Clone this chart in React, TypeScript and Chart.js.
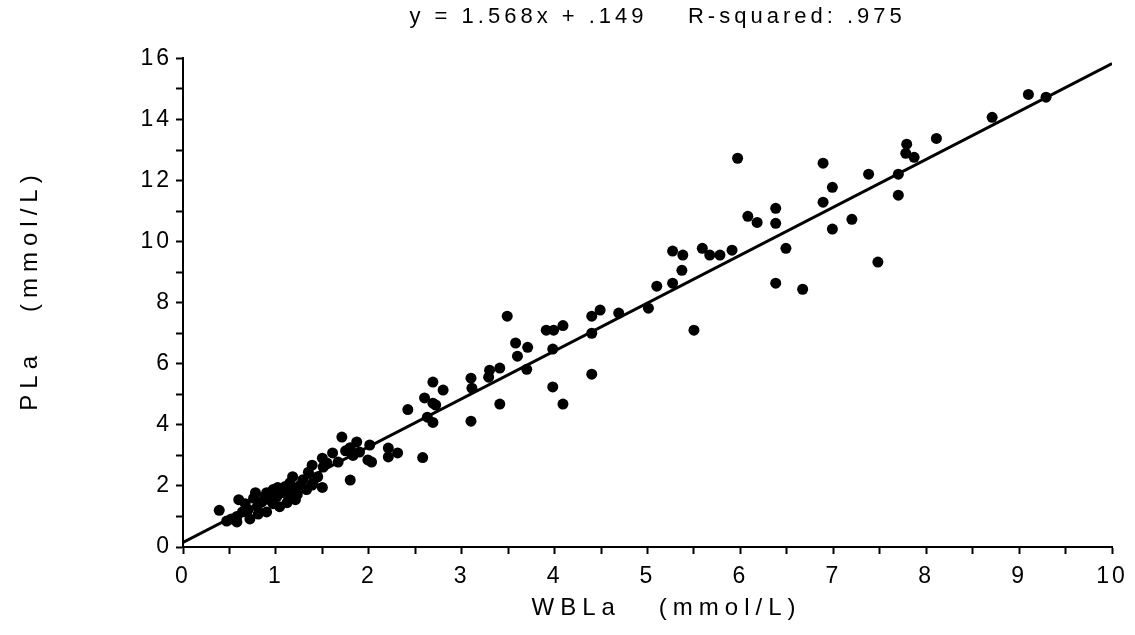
import React, { useEffect, useRef } from 'react';
import { Chart, registerables } from 'chart.js';

Chart.register(...registerables);

// Whole-blood lactate (x) and plasma lactate (y), mmol/L
const wblaX = [
  0.39, 0.47, 0.52, 0.58, 0.58, 0.60, 0.64, 0.67, 0.70, 0.72,
  0.76, 0.78, 0.80, 0.81, 0.85, 0.88, 0.90, 0.90, 0.93, 0.97,
  0.97, 1.01, 1.02, 1.04, 1.08, 1.10, 1.12, 1.14, 1.15, 1.18,
  1.18, 1.21, 1.23, 1.26, 1.29, 1.33, 1.35, 1.39, 1.39, 1.40,
  1.45, 1.50, 1.50, 1.51, 1.55, 1.61, 1.67, 1.71, 1.75, 1.80,
  1.80, 1.83, 1.87, 1.90, 1.99, 2.01, 2.03, 2.21, 2.21, 2.31,
  2.42, 2.58, 2.60, 2.69, 2.63, 2.69, 2.69, 2.80, 2.72, 3.10,
  3.11, 3.10, 3.30, 3.41, 3.29, 3.41, 3.49, 3.58, 3.71, 3.60,
  3.70, 3.91, 3.99, 4.09, 3.98, 3.98, 4.09, 4.40, 4.49, 4.40,
  4.40, 4.69, 5.01, 5.10, 5.27, 5.37, 5.27, 5.38, 5.59, 5.67,
  5.78, 5.91, 5.50, 5.97, 6.08, 6.18, 6.38, 6.38, 6.38, 6.49,
  6.67, 6.89, 6.89, 6.99, 6.99, 7.20, 7.38, 7.48, 7.70, 7.70,
  7.79, 7.78, 7.87, 8.11, 8.71, 9.10, 9.29,
];
const plaY = [
  1.20, 0.85, 0.92, 0.82, 1.00, 1.55, 1.15, 1.42, 1.22, 0.92,
  1.60, 1.78, 1.32, 1.08, 1.48, 1.65, 1.15, 1.78, 1.55, 1.88,
  1.42, 1.65, 1.95, 1.32, 1.78, 1.98, 1.45, 1.62, 2.10, 2.30,
  1.85, 1.55, 1.72, 2.02, 2.20, 1.88, 2.45, 2.68, 2.03, 2.10,
  2.30, 2.91, 1.95, 2.62, 2.75, 3.08, 2.78, 3.60, 3.15, 2.19,
  3.25, 3.00, 3.44, 3.11, 2.85, 3.34, 2.78, 3.24, 2.95, 3.08,
  4.50, 2.93, 4.88, 4.71, 4.25, 4.08, 5.40, 5.14, 4.65, 5.53,
  5.20, 4.12, 5.79, 5.86, 5.56, 4.68, 7.56, 6.68, 6.54, 6.25,
  5.82, 7.10, 7.10, 7.25, 6.48, 5.24, 4.68, 7.56, 7.76, 7.00,
  5.66, 7.66, 7.82, 8.54, 8.64, 9.06, 9.69, 9.56, 9.78, 9.56,
  9.56, 9.72, 7.10, 12.73, 10.83, 10.63, 11.09, 10.60, 8.64, 9.78,
  8.44, 12.57, 11.29, 11.78, 10.41, 10.73, 12.21, 9.33, 12.21, 11.52,
  13.19, 12.89, 12.76, 13.38, 14.07, 14.82, 14.73,
];

// Regression line y = 1.568x + .149, endpoints at x = 0 and x = 10
const fitX = [0, 10];
const fitY = [0.149, 15.829];

const titleText = '  y = 1.568x + .149    R-squared: .975';
const xTitle = '   WBLa   (mmol/L)';
const yTitle = '  PLa   (mmol/L)';

const FONT = "'Liberation Sans', Arial, Helvetica, sans-serif";

function patchSpacing(ctx: any) {
  if (ctx.__spacingPatched) return;
  ctx.__spacingPatched = true;
  const fill = ctx.fillText;
  const measure = ctx.measureText;
  const pick = () => {
    const f: string = ctx.font || '';
    if (f.includes('24px')) return '6px';
    if (f.includes('22px')) return '4px';
    if (f.includes('23px')) return '3px';
    return '0px';
  };
  ctx.fillText = function (t: string, x: number, y: number, w?: number) {
    ctx.letterSpacing = pick();
    return w === undefined ? fill.call(ctx, t, x, y) : fill.call(ctx, t, x, y, w);
  };
  ctx.measureText = function (t: string) {
    ctx.letterSpacing = pick();
    return measure.call(ctx, t);
  };
}

export default function App() {
  const canvasRef = useRef<HTMLCanvasElement | null>(null);

  useEffect(() => {
    document.body.style.margin = '0';
    const canvas = canvasRef.current;
    if (!canvas) return;
    const ctx = canvas.getContext('2d');
    if (!ctx) return;
    patchSpacing(ctx);

    const points = wblaX.map((x, i) => ({ x, y: plaY[i] }));
    const line = fitX.map((x, i) => ({ x, y: fitY[i] }));

    const chart = new Chart(ctx, {
      type: 'scatter',
      data: {
        datasets: [
          {
            label: 'line',
            data: line,
            showLine: true,
            borderColor: '#000',
            borderWidth: 3,
            pointRadius: 0,
            fill: false,
          } as any,
          {
            label: 'points',
            data: points,
            backgroundColor: '#000',
            borderColor: '#000',
            borderWidth: 0,
            pointRadius: 5.5,
            pointHoverRadius: 5.5,
          },
        ],
      },
      options: {
        responsive: false,
        animation: false,
        devicePixelRatio: 1,
        layout: { padding: { left: 0, right: 23, top: 0, bottom: 0 } },
        plugins: {
          legend: { display: false },
          tooltip: { enabled: false },
          title: {
            display: true,
            text: titleText,
            color: '#000',
            fullSize: false,
            font: { family: FONT, size: 22, weight: 'normal' },
            padding: { top: 4, bottom: 28 },
          },
        },
        scales: {
          x: {
            type: 'linear',
            min: 0,
            max: 10,
            afterFit: (s: any) => { s.height = 88; s.paddingRight = 0; s.paddingLeft = 0; },
            border: { display: true, color: '#000', width: 2 },
            grid: {
              display: true,
              drawOnChartArea: false,
              drawTicks: true,
              tickLength: 7,
              tickColor: '#000',
              tickWidth: 2,
              color: '#000',
            },
            ticks: {
              stepSize: 0.5,
              autoSkip: false,
              maxRotation: 0,
              padding: 9,
              color: '#000',
              font: { family: FONT, size: 23 },
              callback: (v: any) => (Number.isInteger(Number(v)) ? String(v) : ''),
            },
            title: {
              display: true,
              text: xTitle,
              color: '#000',
              font: { family: FONT, size: 24 },
              padding: { top: 0, bottom: 12 },
            },
          },
          y: {
            type: 'linear',
            min: 0,
            max: 16,
            afterFit: (s: any) => { s.width = 183; s.paddingTop = 0; },
            border: { display: true, color: '#000', width: 2 },
            grid: {
              display: true,
              drawOnChartArea: false,
              drawTicks: true,
              tickLength: 7,
              tickColor: '#000',
              tickWidth: 2,
              color: '#000',
            },
            ticks: {
              stepSize: 1,
              autoSkip: false,
              padding: 4,
              color: '#000',
              font: { family: FONT, size: 23 },
              callback: (v: any) => (Number(v) % 2 === 0 ? String(v) : ''),
            },
            title: {
              display: true,
              text: yTitle,
              color: '#000',
              font: { family: FONT, size: 24 },
              padding: { top: 16, bottom: 0 },
            },
          },
        },
      },
    });

    return () => chart.destroy();
  }, []);

  return (
    <div style={{ position: 'absolute', left: 0, top: 0, width: 1135, height: 635, background: '#fff' }}>
      <canvas ref={canvasRef} width={1135} height={635} style={{ display: 'block' }} />
    </div>
  );
}
